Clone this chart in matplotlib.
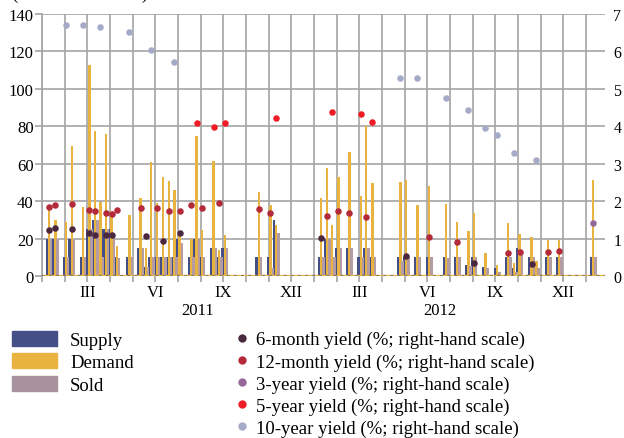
import matplotlib
matplotlib.use("Agg")
import matplotlib.pyplot as plt
import numpy as np
from matplotlib.patches import Patch
from matplotlib.lines import Line2D

plt.rcParams['font.family'] = ['Liberation Serif', 'DejaVu Serif']

# Auction positions (months from January 2011; 0 = start of Jan 2011)
auction_month = [0.31, 0.59, 1.06, 1.32, 1.81, 2.09, 2.35, 2.58, 2.82, 3.07,
                 3.31, 3.86, 4.35, 4.59, 4.82, 5.07, 5.35, 5.59, 5.84, 6.07,
                 6.59, 6.82, 7.05, 7.57, 7.82, 8.07, 9.57, 10.08, 10.33,
                 12.32, 12.58, 12.80, 13.08, 13.56, 14.07, 14.30, 14.58,
                 15.81, 16.07, 16.56, 17.08, 17.83, 18.32, 18.81, 19.06,
                 19.56, 20.08, 20.57, 20.83, 21.07, 21.60, 21.81, 22.33,
                 22.82, 24.32]
supply = [20, 20, 10, 20, 10, 25, 30, 10, 25, 25,
          10, 10, 15, 5, 10, 10, 10, 10, 10, 20,
          10, 20, 10, 15, 10, 15, 10, 10, 30,
          10, 20, 10, 15, 15, 10, 15, 10,
          10, 10, 10, 10, 10, 10, 5.7, 10,
          4.8, 4.3, 10, 4.3, 15, 10, 4.3, 10,
          10, 10]
demand = [37.2, 30, 29, 69.7, 36.9, 112.8, 77.5, 39.7, 75.9, 34.6,
          16, 32.6, 41.7, 15, 61, 39, 52.7, 50.8, 45.8, 23,
          20, 74.8, 24.6, 61.5, 13.9, 21.9, 44.9, 37.9, 27.2,
          41.7, 57.7, 27.2, 52.9, 66.2, 42.8, 80.2, 49.9,
          50.2, 51.4, 37.9, 48.2, 38.5, 29, 24.2, 33.7,
          12.3, 5.9, 28.3, 7, 22.3, 20.8, 8, 19.2,
          19.2, 51.3]
sold = [20, 20, 10, 20, 10, 25, 30, 10, 25, 23,
        9.5, 10, 15, 5, 10, 10, 10, 10, 10, 17.6,
        10, 20, 10, 15, 10, 15, 10, 4.3, 23,
        10, 20, 10, 15, 15, 10, 15, 10,
        8, 10, 10, 10, 9.5, 10, 5.5, 10,
        4.3, 2.1, 10, 2.1, 11.5, 10, 4.3, 10,
        10, 10]

# Yields (% ; right-hand scale)
y6_month = [0.31, 0.59, 1.32, 2.09, 2.35, 2.82, 3.07, 4.59, 5.35, 6.07, 12.32, 16.07, 19.06, 21.60]
y6_value = [1.23, 1.27, 1.25, 1.16, 1.10, 1.10, 1.09, 1.07, 0.93, 1.15, 1.01, 0.53, 0.35, 0.32]
y12_month = [0.31, 0.59, 1.32, 2.09, 2.35, 2.82, 3.07, 3.31, 4.35, 5.07, 5.59, 6.07, 6.59,
             7.05, 7.82, 9.57, 10.08, 12.58, 13.08, 13.56, 14.30, 17.08, 18.32, 20.57,
             21.07, 22.33, 22.82]
y12_value = [1.85, 1.90, 1.92, 1.76, 1.75, 1.67, 1.66, 1.77, 1.83, 1.81, 1.75, 1.75, 1.90,
             1.82, 1.95, 1.79, 1.69, 1.61, 1.73, 1.68, 1.58, 1.05, 0.90, 0.61,
             0.64, 0.64, 0.67]
y3_month = [24.32]
y3_value = [1.42]
y5_month = [6.82, 7.57, 8.07, 10.33, 12.80, 14.07, 14.58]
y5_value = [4.08, 3.99, 4.08, 4.22, 4.38, 4.34, 4.11]
y10_month = [1.06, 1.81, 2.58, 3.86, 4.82, 5.84, 15.81, 16.56, 17.83, 18.81, 19.56, 20.08, 20.83, 21.81]
y10_value = [6.71, 6.71, 6.64, 6.53, 6.03, 5.71, 5.30, 5.30, 4.75, 4.43, 3.95, 3.78, 3.29, 3.11]

month_ticks = [2, 5, 8, 11, 14, 17, 20, 23]
month_labels = ['III', 'VI', 'IX', 'XII', 'III', 'VI', 'IX', 'XII']
year_pos = [6.86, 17.55]
year_labels = ['2011', '2012']

C_SUP = '#454f87'
C_DEM = '#e8b33e'
C_SOLD = '#b59ca4'
C_Y6 = '#4b2840'
C_Y12 = '#b32a3a'
C_Y3 = '#96689a'
C_Y5 = '#ee1c25'
C_Y10 = '#a5aac8'
GRID = '#a4a4a4'

fig = plt.figure(figsize=(6.24, 4.39), dpi=100)
ax = fig.add_axes([42/624, 1-277/439, (605-42)/624, (277-15)/439])
ax2 = ax.twinx()

x = np.array(auction_month)
w = 0.105
off = 0.1
ax.bar(x - off, supply, width=w, color=C_SUP, zorder=3)
ax.bar(x, demand, width=w, color=C_DEM, zorder=3)
ax.bar(x + off, sold, width=w, color=C_SOLD, zorder=3)

ax.set_xlim(0, 24.84)
ax.set_ylim(0, 140)
ax.set_yticks(np.arange(0, 141, 20))
ax.set_xticks(month_ticks)
ax.set_xticklabels(month_labels)
ax.set_xticks(np.arange(0, 25), minor=True)
ax.set_axisbelow(True)
ax.grid(True, which='minor', axis='x', color=GRID, lw=1.2)
ax.grid(True, which='major', axis='y', color=GRID, lw=1.2)
ax.grid(True, which='major', axis='x', color=GRID, lw=1.2)
ax.tick_params(axis='x', which='both', length=4, color=GRID, width=1.2,
               labelsize=12, pad=2)
ax.tick_params(axis='y', length=5, color=GRID, width=1.2, labelsize=12, pad=1)
for s in ['top', 'right', 'bottom']:
    ax.spines[s].set_visible(False)
ax.spines['left'].set_color(GRID)
ax.spines['left'].set_linewidth(1.2)

# baseline
ax.axhline(0, color=C_DEM, lw=1.6, zorder=4)
ax.axhline(0, color=C_SUP, lw=1.6, dashes=(1.2, 2.0), zorder=4, alpha=0.6)

for xp, lab in zip(year_pos, year_labels):
    ax.text(xp, -0.128, lab, transform=ax.get_xaxis_transform(),
            ha='center', va='center', fontsize=12)

ax2.set_ylim(0, 7)
ax2.set_yticks(range(0, 8))
ax2.tick_params(axis='y', length=0, labelsize=11.5, pad=6)
for s in ['top', 'right', 'bottom', 'left']:
    ax2.spines[s].set_visible(False)

ms = 22
ax2.scatter(y10_month, y10_value, s=ms, color=C_Y10, zorder=5, linewidths=0)
ax2.scatter(y5_month, y5_value, s=ms, color=C_Y5, zorder=5, linewidths=0)
ax2.scatter(y3_month, y3_value, s=ms, color=C_Y3, zorder=5, linewidths=0)
ax2.scatter(y12_month, y12_value, s=ms, color=C_Y12, zorder=5, linewidths=0)
ax2.scatter(y6_month, y6_value, s=ms, color=C_Y6, zorder=5, linewidths=0)

fig.text(12/624, 1 + 1/439, '(in EUR millions)', fontsize=13.5, va='baseline', ha='left')

FS = 13.5
h1 = [Patch(color=C_SUP), Patch(color=C_DEM), Patch(color='#a7929d')]
l1 = ['Supply', 'Demand', 'Sold']
leg1 = fig.legend(h1, l1, loc='upper left', bbox_to_anchor=(12/624, 1-332/439),
                  frameon=False, fontsize=FS, handlelength=2.4, handleheight=0.85,
                  labelspacing=0.24, handletextpad=0.7, borderaxespad=0, borderpad=0)

h2 = [Line2D([], [], marker='o', ls='', color=c, markersize=6, markeredgewidth=0)
      for c in [C_Y6, C_Y12, C_Y3, C_Y5, C_Y10]]
l2 = ['6-month yield (%; right-hand scale)', '12-month yield (%; right-hand scale)',
      '3-year yield (%; right-hand scale)', '5-year yield (%; right-hand scale)',
      '10-year yield (%; right-hand scale)']
leg2 = fig.legend(h2, l2, loc='upper left', bbox_to_anchor=(234/624, 1-332/439),
                  frameon=False, fontsize=FS, handlelength=0.8,
                  labelspacing=0.26, handletextpad=0.37, borderaxespad=0, borderpad=0)

fig.savefig('out.png', dpi=100)
